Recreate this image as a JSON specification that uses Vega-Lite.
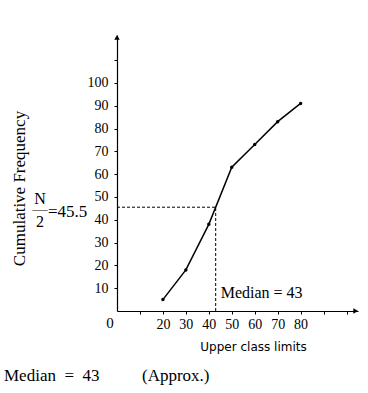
{
  "$schema": "https://vega.github.io/schema/vega-lite/v6.json",
  "width": 241,
  "height": 276,
  "autosize": {"type": "none"},
  "padding": {"left": 117, "top": 35, "right": 10, "bottom": 82},
  "background": "white",
  "config": {
    "view": {"stroke": null},
    "font": "Liberation Serif",
    "axis": {"grid": false, "domainColor": "black", "tickColor": "black", "labelColor": "black", "titleColor": "black", "labelFont": "Liberation Serif", "labelFontSize": 14, "tickSize": 3, "domainWidth": 1.2, "labelOverlap": false}
  },
  "title": {
    "text": "Median\u00a0\u00a0=\u00a0\u00a043\u00a0\u00a0\u00a0\u00a0\u00a0\u00a0\u00a0\u00a0\u00a0\u00a0(Approx.)",
    "orient": "bottom",
    "anchor": "start",
    "frame": "bounds",
    "font": "Liberation Serif",
    "fontSize": 17,
    "fontWeight": "normal",
    "color": "black",
    "offset": 16,
    "dx": -6
  },
  "layer": [
    {
      "data": {"values": [
        {"limit": 20, "cf": 5},
        {"limit": 30, "cf": 18},
        {"limit": 40, "cf": 38},
        {"limit": 50, "cf": 63},
        {"limit": 60, "cf": 73},
        {"limit": 70, "cf": 83},
        {"limit": 80, "cf": 91}
      ]},
      "mark": {"type": "line", "color": "black", "strokeWidth": 1.5, "point": {"filled": true, "color": "black", "size": 12}},
      "encoding": {
        "x": {"field": "limit", "type": "quantitative", "scale": {"domain": [0, 105], "nice": false},
          "axis": {"values": [10, 20, 30, 40, 50, 60, 70, 80, 90, 100], "tickCount": 50, "labelColor": {"condition": {"test": "datum.value < 20 || datum.value > 80", "value": "transparent"}, "value": "black"}, "labelPadding": 3, "labelFlush": false, "labelOverlap": false, "labelBound": false,
            "title": "Upper class limits", "titleFont": "DejaVu Sans", "titleFontSize": 12, "titleFontWeight": "normal", "titleX": 136, "titleY": 35, "titleBaseline": "middle", "titleAlign": "center"}},
        "y": {"field": "cf", "type": "quantitative", "scale": {"domain": [0, 121], "nice": false},
          "axis": {"values": [10, 20, 30, 40, 50, 60, 70, 80, 90, 100, 110], "tickCount": 50, "labelColor": {"condition": {"test": "datum.value > 100", "value": "transparent"}, "value": "black"}, "labelPadding": 6, "labelOverlap": false, "labelBound": false, "labelFlush": false,
            "title": "Cumulative Frequency", "titleFont": "Liberation Serif", "titleFontSize": 17, "titleFontWeight": "normal", "titleX": -98, "titleY": 153, "titleBaseline": "middle", "titleAlign": "center", "titleAngle": -90}}
      }
    },
    {
      "data": {"values": [{}]},
      "mark": {"type": "rule", "color": "black", "strokeWidth": 1, "strokeDash": [3, 2]},
      "encoding": {"x": {"datum": 0}, "x2": {"datum": 43}, "y": {"datum": 45.5}}
    },
    {
      "data": {"values": [{}]},
      "mark": {"type": "rule", "color": "black", "strokeWidth": 1, "strokeDash": [3, 2]},
      "encoding": {"x": {"datum": 43}, "y": {"datum": 0}, "y2": {"datum": 45.5}}
    },
    {
      "data": {"values": [{}]},
      "mark": {"type": "point", "shape": "triangle-right", "filled": true, "color": "black", "size": 30, "opacity": 1},
      "encoding": {"x": {"datum": 104}, "y": {"datum": 0}}
    },
    {
      "data": {"values": [{}]},
      "mark": {"type": "point", "shape": "triangle-up", "filled": true, "color": "black", "size": 30, "opacity": 1},
      "encoding": {"x": {"datum": 0}, "y": {"datum": 120}}
    },
    {
      "data": {"values": [{}]},
      "mark": {"type": "text", "text": "Median = 43", "font": "Liberation Serif", "fontSize": 16, "align": "left", "baseline": "middle", "dx": 5, "color": "black"},
      "encoding": {"x": {"datum": 43}, "y": {"datum": 8}}
    },
    {
      "data": {"values": [{}]},
      "mark": {"type": "text", "text": "0", "font": "Liberation Serif", "fontSize": 15, "align": "center", "baseline": "middle", "dx": -7, "dy": 12, "color": "black"},
      "encoding": {"x": {"datum": 0}, "y": {"datum": 0}}
    },
    {
      "data": {"values": [{}]},
      "mark": {"type": "text", "text": "N", "font": "Liberation Serif", "fontSize": 16, "align": "center", "baseline": "middle", "dx": -77, "dy": -8, "color": "black"},
      "encoding": {"x": {"datum": 0}, "y": {"datum": 45.5}}
    },
    {
      "data": {"values": [{}]},
      "mark": {"type": "text", "text": "\u2014", "font": "Liberation Serif", "fontSize": 15, "align": "center", "baseline": "middle", "dx": -77, "dy": 2, "color": "black"},
      "encoding": {"x": {"datum": 0}, "y": {"datum": 45.5}}
    },
    {
      "data": {"values": [{}]},
      "mark": {"type": "text", "text": "2", "font": "Liberation Serif", "fontSize": 16, "align": "center", "baseline": "middle", "dx": -77, "dy": 15, "color": "black"},
      "encoding": {"x": {"datum": 0}, "y": {"datum": 45.5}}
    },
    {
      "data": {"values": [{}]},
      "mark": {"type": "text", "text": "=45.5", "font": "Liberation Serif", "fontSize": 17, "align": "left", "baseline": "middle", "dx": -69, "dy": 5, "color": "black"},
      "encoding": {"x": {"datum": 0}, "y": {"datum": 45.5}}
    }
  ]
}
